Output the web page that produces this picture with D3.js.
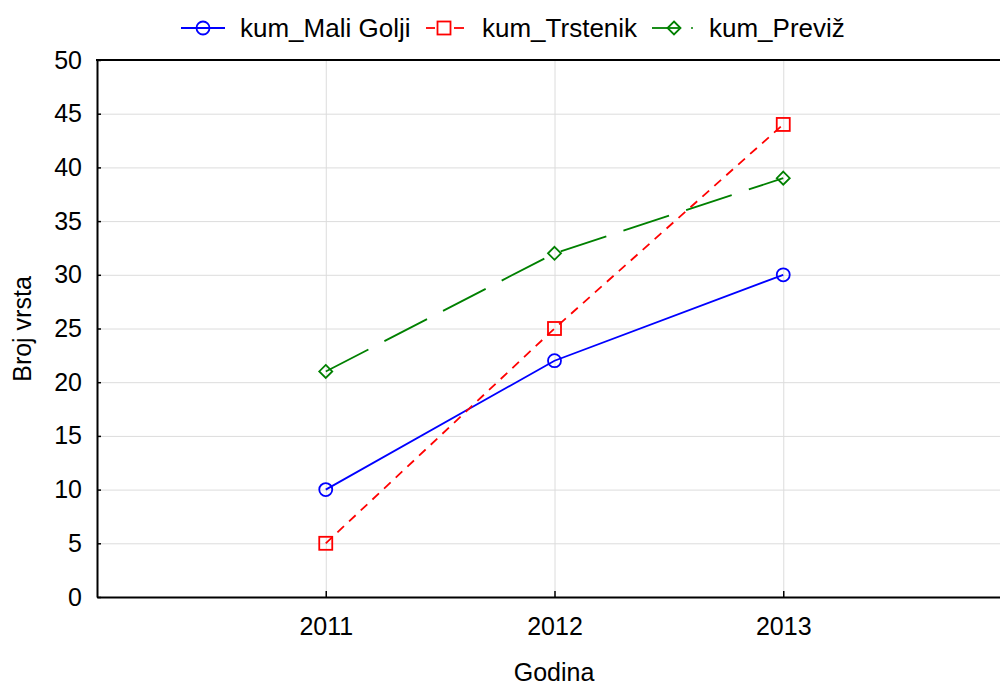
<!DOCTYPE html>
<html>
<head>
<meta charset="utf-8">
<script src="https://cdn.jsdelivr.net/npm/d3@7"></script>
<style>
  body { margin: 0; background: #fff; }
  svg { font-family: "Liberation Sans", Arial, sans-serif; }
</style>
</head>
<body>
<div id="chart"></div>
<script>
// data
const years = [2011, 2012, 2013]
const maliGolji = [10, 22, 30]
const trstenik = [5, 25, 44]
const previz = [21, 32, 39]
const yTicks = [0, 5, 10, 15, 20, 25, 30, 35, 40, 45, 50]

const series = [
    { name: 'kum_Mali Golji', values: maliGolji, color: '#0000ff', dash: null, marker: 'circle' },
    { name: 'kum_Trstenik', values: trstenik, color: '#ff0000', dash: '9,7', marker: 'square' },
    { name: 'kum_Previž', values: previz, color: '#008000', dash: '48,18', marker: 'diamond' }
]

const width = 1000
const height = 686
const plot = { left: 97, top: 60, right: 1012, bottom: 597 }

const svg = d3.select('#chart')
    .append('svg')
    .attr('width', width)
    .attr('height', height)

const xScale = d3.scaleLinear()
    .domain([2010, 2014])
    .range([plot.left, plot.right])

const yScale = d3.scaleLinear()
    .domain([0, 50])
    .range([plot.bottom, plot.top])

// gridlines
svg.append('g')
    .selectAll('line')
    .data(yTicks.slice(1, -1))
    .enter()
    .append('line')
    .attr('x1', plot.left)
    .attr('x2', width)
    .attr('y1', d => yScale(d) + 0.5)
    .attr('y2', d => yScale(d) + 0.5)
    .attr('stroke', '#dcdcdc')
    .attr('stroke-width', 1)

svg.append('g')
    .selectAll('line')
    .data(years)
    .enter()
    .append('line')
    .attr('x1', d => xScale(d) + 0.5)
    .attr('x2', d => xScale(d) + 0.5)
    .attr('y1', plot.top)
    .attr('y2', plot.bottom)
    .attr('stroke', '#dcdcdc')
    .attr('stroke-width', 1)

// axes
const yAxis = d3.axisLeft(yScale)
    .tickValues(yTicks)
    .tickSizeInner(-4)
    .tickSizeOuter(0)
    .tickPadding(15)

const xAxis = d3.axisBottom(xScale)
    .tickValues(years)
    .tickFormat(d3.format('d'))
    .tickSizeInner(-6)
    .tickSizeOuter(0)
    .tickPadding(20)

const gy = svg.append('g')
    .attr('transform', 'translate(' + plot.left + ',0)')
    .call(yAxis)
gy.select('.domain').attr('stroke', '#000').attr('stroke-width', 2)
gy.selectAll('.tick line').attr('stroke', '#000').attr('stroke-width', 1.5)
gy.selectAll('text').attr('font-size', 25).attr('fill', '#000')

const gx = svg.append('g')
    .attr('transform', 'translate(0,' + plot.bottom + ')')
    .call(xAxis)
gx.select('.domain').attr('stroke', '#000').attr('stroke-width', 2)
gx.selectAll('.tick line').attr('stroke', '#000').attr('stroke-width', 1.5)
gx.selectAll('text').attr('font-size', 25).attr('fill', '#000')

// top border
svg.append('line')
    .attr('x1', plot.left - 1)
    .attr('x2', width)
    .attr('y1', plot.top)
    .attr('y2', plot.top)
    .attr('stroke', '#000')
    .attr('stroke-width', 2)

// axis titles
svg.append('text')
    .attr('x', 554)
    .attr('y', 681)
    .attr('text-anchor', 'middle')
    .attr('font-size', 25)
    .text('Godina')

svg.append('text')
    .attr('transform', 'translate(31,' + 329 + ') rotate(-90)')
    .attr('text-anchor', 'middle')
    .attr('font-size', 25)
    .text('Broj vrsta')

// markers
const drawMarker = (g, type, x, y, color) => {
    if (type === 'circle') {
        g.append('circle').attr('cx', x).attr('cy', y).attr('r', 6.5)
            .attr('fill', 'none').attr('stroke', color).attr('stroke-width', 1.8)
    } else if (type === 'square') {
        g.append('rect').attr('x', x - 6.5).attr('y', y - 6.5).attr('width', 13).attr('height', 13)
            .attr('fill', 'none').attr('stroke', color).attr('stroke-width', 1.8)
    } else {
        const s = 6.5
        g.append('path').attr('d', `M${x},${y - s}L${x + s},${y}L${x},${y + s}L${x - s},${y}Z`)
            .attr('fill', 'none').attr('stroke', color).attr('stroke-width', 1.8)
    }
}

const line = d3.line()
    .x(d => xScale(d[0]))
    .y(d => yScale(d[1]))

series.forEach(s => {
    const pts = years.map((yr, i) => [yr, s.values[i]])
    svg.append('path')
        .datum(pts)
        .attr('d', line)
        .attr('fill', 'none')
        .attr('stroke', s.color)
        .attr('stroke-width', 1.8)
        .attr('stroke-dasharray', s.dash)
    const g = svg.append('g')
    pts.forEach(p => drawMarker(g, s.marker, xScale(p[0]), yScale(p[1]), s.color))
})

// legend
const legendItems = [
    { segs: [[181, 225]], mark: 203, textX: 240 },
    { segs: [[426, 435], [454, 464]], mark: 444, textX: 482 },
    { segs: [[652, 679]], mark: 674, textX: 709 }
]
const legendY = 28
series.forEach((s, i) => {
    const li = legendItems[i]
    const g = svg.append('g')
    li.segs.forEach(sg => {
        g.append('line').attr('x1', sg[0]).attr('x2', sg[1]).attr('y1', legendY).attr('y2', legendY)
            .attr('stroke', s.color).attr('stroke-width', 1.8)
    })
    if (s.marker === 'diamond') {
        g.append('circle').attr('cx', 692).attr('cy', legendY).attr('r', 1).attr('fill', s.color)
    }
    drawMarker(g, s.marker, li.mark, legendY, s.color)
    g.append('text')
        .attr('x', li.textX)
        .attr('y', legendY + 9)
        .attr('font-size', 26)
        .text(s.name)
})
</script>
</body>
</html>
